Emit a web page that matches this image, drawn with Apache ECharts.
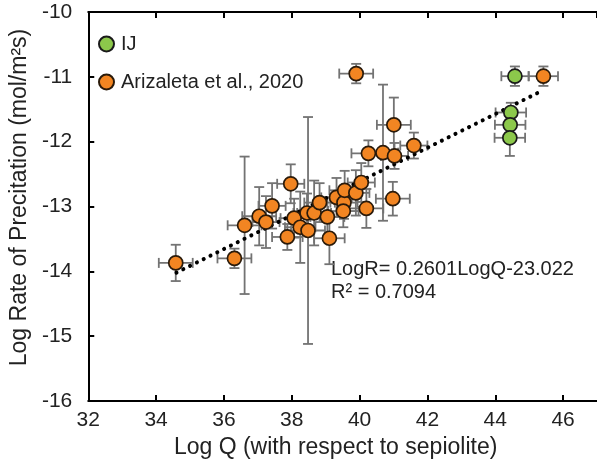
<!DOCTYPE html>
<html>
<head>
<meta charset="utf-8">
<script src="https://cdn.jsdelivr.net/npm/echarts@6/dist/echarts.min.js"></script>
<style>
html,body{margin:0;padding:0;background:#fff;}
#chart{width:597px;height:466px;}
</style>
</head>
<body>
<div id="chart"></div>
<script>
// ---- data ----
const orangeX    = [34.58, 36.31, 36.61, 37.04, 37.24, 37.42, 37.97, 37.87, 38.07, 38.25, 38.48, 38.45, 38.66, 38.82, 39.05, 39.11, 39.32, 39.54, 39.52, 39.56, 39.89, 40.05, 40.20, 40.98, 39.90, 41.01, 40.26, 40.69, 41.03, 41.60, 45.42];
const orangeY    = [-13.87, -13.80, -13.29, -13.15, -13.24, -12.99, -12.65, -13.47, -13.18, -13.32, -13.37, -13.10, -13.10, -12.94, -13.16, -13.49, -12.86, -12.94, -13.07, -12.75, -12.79, -12.63, -13.03, -12.88, -10.95, -11.74, -12.18, -12.17, -12.22, -12.06, -10.99];
const orangeXErr = [0.5, 0.5, 0.5, 0.5, 0.4, 0.4, 0.4, 0.45, 0.4, 0.45, 0.5, 0.4, 0.5, 0.45, 0.5, 0.45, 0.45, 0.4, 0.45, 0.45, 0.4, 0.4, 0.5, 0.5, 0.5, 0.5, 0.5, 0.45, 0.4, 0.4, 0.43];
const orangeYErr = [0.28, 0.15, 1.06, 0.45, 0.4, 0.35, 0.3, 0.2, 0.3, 0.55, 1.75, 0.3, 0.5, 0.3, 0.3, 0.4, 0.3, 0.25, 0.25, 0.3, 0.35, 0.3, 0.3, 0.26, 0.15, 0.42, 0.2, 1.05, 0.2, 0.2, 0.15];

const greenX    = [44.58, 44.46, 44.44, 44.43];
const greenY    = [-10.99, -11.55, -11.74, -11.94];
const greenXErr = [0.4, 0.45, 0.45, 0.45];
const greenYErr = [0.15, 0.15, 0.15, 0.28];

const trendX = [34.6, 45.4];
const trendY = [-14.02, -11.21];

const xTicks = [32, 34, 36, 38, 40, 42, 44, 46];
const yTicks = [-16, -15, -14, -13, -12, -11, -10];

const seriesNames = ['IJ', 'Arizaleta et al., 2020'];
const equationText = ['LogR= 0.2601LogQ-23.022', 'R\u00B2 = 0.7094'];

// ---- build ----
const FONT = 'Liberation Sans, Arial, sans-serif';
function zip(xs, ys) { return xs.map((x, i) => [x, ys[i]]); }
function errData(xs, ys, ex, ey) { return xs.map((x, i) => [x, ys[i], ex[i], ey[i]]); }

function errRender(params, api) {
  const x = api.value(0), y = api.value(1), ex = api.value(2), ey = api.value(3);
  const l = api.coord([x - ex, y]), r = api.coord([x + ex, y]);
  const t = api.coord([x, y + ey]), b = api.coord([x, y - ey]);
  const cap = 5;
  const st = { stroke: '#737373', lineWidth: 1.8 };
  const ln = (x1, y1, x2, y2) => ({ type: 'line', shape: { x1, y1, x2, y2 }, style: st });
  return {
    type: 'group',
    children: [
      ln(l[0], l[1], r[0], r[1]),
      ln(l[0], l[1] - cap, l[0], l[1] + cap),
      ln(r[0], r[1] - cap, r[0], r[1] + cap),
      ln(t[0], t[1], b[0], b[1]),
      ln(t[0] - cap, t[1], t[0] + cap, t[1]),
      ln(b[0] - cap, b[1], b[0] + cap, b[1])
    ]
  };
}

const chart = echarts.init(document.getElementById('chart'), null, { renderer: 'canvas' });
const axisCommon = {
  axisLine: { show: true, onZero: false, lineStyle: { color: '#000', width: 2 } },
  axisTick: { show: true, inside: true, length: 6, lineStyle: { color: '#000', width: 2 } },
  splitLine: { show: false }
};

chart.setOption({
  animation: false,
  backgroundColor: '#fff',
  grid: { left: 81, right: -8, top: 12, bottom: 65 },
  legend: {
    orient: 'vertical',
    left: 98, top: 33, padding: 0,
    itemWidth: 15, itemHeight: 15, itemGap: 16,
    icon: 'circle',
    data: seriesNames,
    textStyle: { fontFamily: FONT, fontSize: 20, lineHeight: 22, color: '#222', padding: [0, 0, 0, 2] }
  },
  xAxis: [
    Object.assign({
      type: 'value', min: 32, max: 47, interval: 2, position: 'bottom',
      name: 'Log Q (with respect to sepiolite)', nameLocation: 'middle', nameGap: 33,
      nameTextStyle: { fontFamily: FONT, fontSize: 23, color: '#222', padding: [0, 14, 0, 0] },
      axisLabel: { fontFamily: FONT, fontSize: 21, color: '#222', margin: 9, showMaxLabel: false }
    }, axisCommon),
    Object.assign({
      type: 'value', min: 32, max: 47, interval: 2, position: 'top',
      axisLabel: { show: false }
    }, axisCommon)
  ],
  yAxis: Object.assign({
    type: 'value', min: -16, max: -10, interval: 1,
    name: 'Log Rate of Precitation (mol/m\u00B2s)', nameLocation: 'middle', nameGap: 40,
    nameTextStyle: { fontFamily: FONT, fontSize: 23, color: '#222', padding: [0, 0, 0, 18] },
    axisLabel: { fontFamily: FONT, fontSize: 21, color: '#222', margin: 16 }
  }, axisCommon),
  series: [
    {
      type: 'custom', name: 'errIJ', xAxisIndex: 0, renderItem: errRender,
      data: errData(greenX, greenY, greenXErr, greenYErr), z: 2, silent: true
    },
    {
      type: 'custom', name: 'errAr', xAxisIndex: 0, renderItem: errRender,
      data: errData(orangeX, orangeY, orangeXErr, orangeYErr), z: 2, silent: true
    },
    {
      type: 'line', name: 'trend', data: zip(trendX, trendY), symbol: 'none',
      lineStyle: { color: '#000', width: 4, type: [0.1, 7.5], cap: 'round' }, z: 4, silent: true
    },
    {
      type: 'scatter', name: seriesNames[0], data: zip(greenX, greenY), symbolSize: 14,
      itemStyle: { color: '#8cc84b', borderColor: '#1a1a1a', borderWidth: 1.7, opacity: 1 }, z: 5
    },
    {
      type: 'scatter', name: seriesNames[1], data: zip(orangeX, orangeY), symbolSize: 14,
      itemStyle: { color: '#f28522', borderColor: '#2a1a0a', borderWidth: 1.7, opacity: 1 }, z: 5
    }
  ],
  graphic: [
    {
      type: 'text', left: 331, top: 258,
      style: { text: equationText.join('\n'), fontFamily: FONT, fontSize: 20, lineHeight: 23, fill: '#222' }
    }
  ]
});
</script>
</body>
</html>
